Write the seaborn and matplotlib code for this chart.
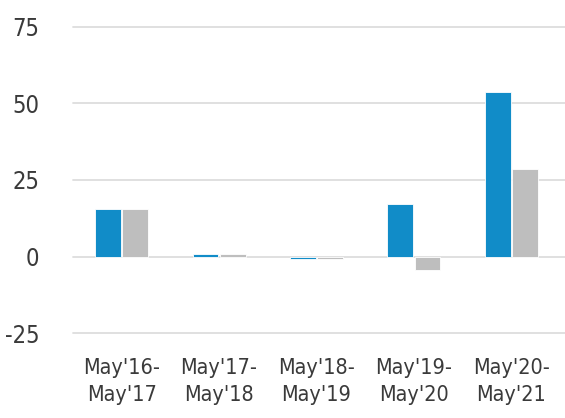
import pandas as pd
import matplotlib.pyplot as plt
import seaborn as sns

# Data
periods = ["May'16-\nMay'17", "May'17-\nMay'18", "May'18-\nMay'19",
           "May'19-\nMay'20", "May'20-\nMay'21"]
fund = [15.5, 0.9, -0.8, 17.3, 53.6]
benchmark = [15.5, 0.8, -0.7, -4.3, 28.5]
series = ["Fund", "Benchmark"]
yticks = [-25, 0, 25, 50, 75]

df = pd.DataFrame({
    "period": periods * 2,
    "series": [series[0]] * len(periods) + [series[1]] * len(periods),
    "value": fund + benchmark,
})

sns.set_theme(style="white")
plt.rcParams["font.family"] = ["DejaVu Sans"]
plt.rcParams["font.stretch"] = "condensed"
plt.rcParams["axes.unicode_minus"] = False

fig = plt.figure(figsize=(5.65, 4.18), dpi=100)
ax = fig.add_axes([0.129, 0.203, 0.871, 0.733])

sns.barplot(data=df, x="period", y="value", hue="series",
            palette=["#118cc8", "#bebebe"], saturation=1, width=0.56, gap=0.06,
            edgecolor="white", linewidth=0.6, legend=False, ax=ax, zorder=3)

for y in yticks:
    ax.axhline(y, color="#dddddd", lw=1.3, zorder=1, clip_on=False)

ax.set_ylim(-25, 75)
ax.set_xlim(-0.5, 4.55)
ax.set_yticks(yticks)
ax.set_xlabel("")
ax.set_ylabel("")
sns.despine(ax=ax, left=True, bottom=True)
ax.tick_params(axis="y", length=0, pad=24, labelsize=17, labelcolor="#3a3a3a")
ax.tick_params(axis="x", length=0, pad=18, labelsize=15.5, labelcolor="#3a3a3a")
for lab in ax.get_xticklabels():
    lab.set_linespacing(1.4)

fig.savefig("out.png", dpi=100)
